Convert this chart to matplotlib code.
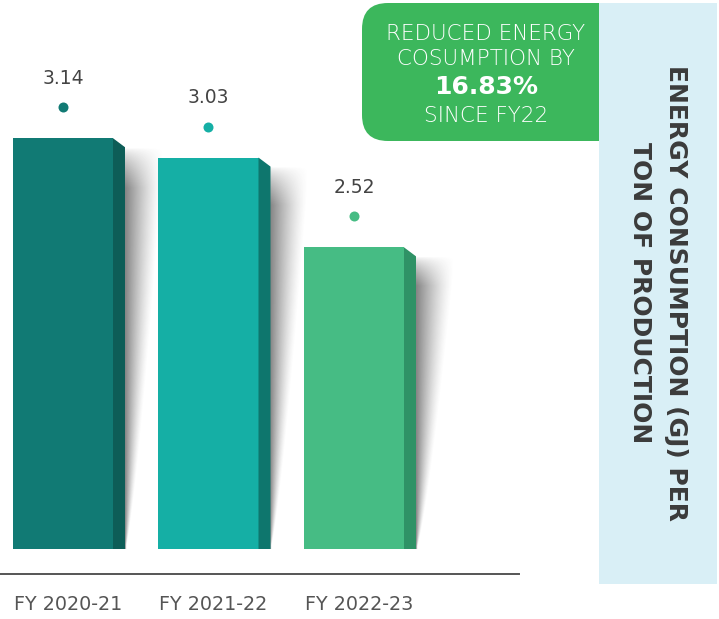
import numpy as np
import matplotlib
matplotlib.use("Agg")
import matplotlib.pyplot as plt
from matplotlib.patches import FancyBboxPatch, Rectangle, Polygon
import matplotlib.transforms as mtransforms

# ---- data ----
categories = ["FY 2020-21", "FY 2021-22", "FY 2022-23"]
values = [3.14, 3.03, 2.52]
value_labels = ["3.14", "3.03", "2.52"]
front_colors = ["#117A74", "#15AFA5", "#46BC84"]
side_colors = ["#0D5D57", "#0E766D", "#2F9266"]
callout_lines = ["REDUCED ENERGY", "COSUMPTION BY", "16.83%", "SINCE FY22"]
panel_title = "ENERGY CONSUMPTION (GJ) PER\nTON OF PRODUCTION"

W, H = 719, 619
DPI = 100
FONT = "DejaVu Sans"
plt.rcParams["font.family"] = [FONT]

fig = plt.figure(figsize=(W / DPI, H / DPI), dpi=DPI)
fig.patch.set_facecolor("white")

# background overlay axes in pixel coords (y down)
bg = fig.add_axes([0, 0, 1, 1])
bg.set_xlim(0, W)
bg.set_ylim(H, 0)
bg.axis("off")

# green callout (rounded left corners; right part hidden under panel)
bg.add_patch(FancyBboxPatch((362, 3), 280, 138,
                            boxstyle="round,pad=0,rounding_size=26",
                            facecolor="#3CB75C", edgecolor="none", zorder=1))
# light blue panel
bg.add_patch(Rectangle((599, 3), 118, 581, facecolor="#D9EFF6",
                       edgecolor="none", zorder=2))

cx = 486
bg.text(cx, 34, callout_lines[0], color="white", fontsize=15.5, ha="center",
        va="center", fontweight="light", zorder=3)
bg.text(cx, 59, callout_lines[1], color="white", fontsize=15.5, ha="center",
        va="center", fontweight="light", zorder=3)
bg.text(cx, 87, callout_lines[2], color="white", fontsize=18, ha="center",
        va="center", fontweight="bold", zorder=3)
bg.text(cx, 116, callout_lines[3], color="white", fontsize=15.5, ha="center",
        va="center", fontweight="light", zorder=3)

bg.text(658, 293, panel_title, rotation=270, color="#3B3B3B", fontsize=18,
        fontweight="bold", ha="center", va="center", multialignment="center",
        linespacing=1.6, zorder=3)

# ---- main bar axes ----
ax_l, ax_b, ax_w, ax_h = 0, 70, 519, 549   # pixels (bottom-origin)
ax = fig.add_axes([ax_l / W, ax_b / H, ax_w / W, ax_h / H])
ax.patch.set_alpha(0)
spacing_px = 145.5
x0 = -63 / spacing_px
ybase = 0.806
ppu = 176.0

px_x = 1 / spacing_px   # data units per pixel horizontally
px_y = 1 / ppu          # data units per pixel vertically

bw = 100 * px_x
side_w = 12 * px_x
side_drop = 9 * px_y
shadow_w = 42 * px_x

xs = np.arange(len(values))
ax.bar(xs, values, width=bw, bottom=0, color=front_colors, zorder=3)

for i, (x, v) in enumerate(zip(xs, values)):
    xr = x + bw / 2
    # side face
    ax.add_patch(Polygon([(xr, v), (xr + side_w, v - side_drop),
                          (xr + side_w, 0), (xr, 0)], closed=True,
                         facecolor=side_colors[i], edgecolor="none", zorder=3))
    # soft shadow
    ny, nx = 240, 80
    vv = np.linspace(0, 1, ny)[:, None]        # 0 top, 1 bottom
    uu = np.linspace(0, 1, nx)[None, :]
    width = np.clip((1 - vv) ** 0.75, 0.03, 1) * 0.95
    a = np.clip(1 - uu / width, 0, 1) ** 1.3
    a *= np.clip(vv / 0.10, 0, 1) ** 0.7
    a *= 0.62
    img = np.zeros((ny, nx, 4))
    img[..., :3] = 0.22
    img[..., 3] = a
    ax.imshow(img, extent=[xr + side_w, xr + side_w + shadow_w, ybase,
                           v - side_drop], aspect="auto",
              interpolation="bilinear", zorder=2)
    # dot and label
    ax.plot([x], [v + 31 * px_y], marker="o", markersize=7.2,
            color=front_colors[i], markeredgewidth=0, zorder=4, clip_on=False)
    ax.text(x, v + 60 * px_y, value_labels[i], ha="center", va="center",
            fontsize=13.5, color="#444444", zorder=4)

ax.set_aspect("auto")
ax.set_xlim(x0, x0 + ax_w / spacing_px)
ax.set_ylim(ybase, ybase + ax_h / ppu)

for s in ax.spines.values():
    s.set_visible(False)
ax.set_yticks([])
ax.set_xticks(xs)
ax.set_xticklabels(categories, fontsize=13.8, color="#555555")
ax.tick_params(axis="x", length=0, pad=33)
off = mtransforms.ScaledTranslation(5 / DPI, 0, fig.dpi_scale_trans)
for lab in ax.get_xticklabels():
    lab.set_transform(lab.get_transform() + off)

# baseline line at y=574 px from top
ax.plot([0, 1], [-(574 - 549) / ax_h] * 2, transform=ax.transAxes,
        color="#555555", linewidth=1.4, clip_on=False)

fig.savefig("out.png", dpi=DPI)
